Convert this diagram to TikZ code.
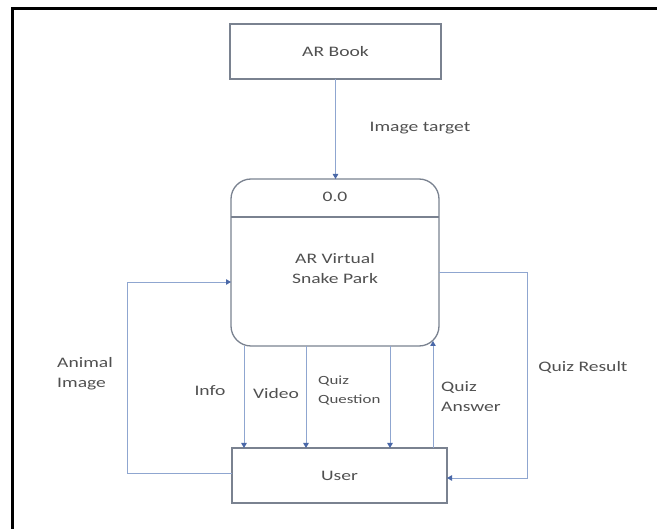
\documentclass[tikz,border=0pt]{standalone}
\usepackage{fontspec}
\setmainfont{Carlito}[FakeStretch=1.35]
\usetikzlibrary{arrows.meta}
\definecolor{boxc}{HTML}{7A8290}
\definecolor{linec}{HTML}{8FA6D0}
\definecolor{tipc}{HTML}{4A68A8}
\definecolor{txtc}{HTML}{505050}
\begin{document}
\begin{tikzpicture}[x=1pt,y=-1pt,
  boxnode/.style={draw=boxc,line width=1.3pt,outer sep=0pt,inner sep=0pt,text=txtc,
    font=\fontsize{14.5}{20}\selectfont},
  flow/.style={draw=linec,line width=0.9pt,-{Triangle[length=5pt,width=5.5pt,color=tipc]}},
  lbl/.style={text=txtc,inner sep=0pt,font=\fontsize{14.5}{20}\selectfont},
  lblsmall/.style={text=txtc,inner sep=0pt,font=\fontsize{12.5}{19}\selectfont}]
\useasboundingbox (0,0) rectangle (657,529);
% frame
\draw[line width=3pt] (12.5,529) -- (12.5,8.5) -- (657,8.5);
% boxes
\node[boxnode,minimum width=211pt,minimum height=55pt] (book) at (335.5,51.5) {AR Book};
\node[boxnode,minimum width=208pt,minimum height=167pt,rounded corners=20pt] (proc) at (335,262.5) {};
\node[boxnode,minimum width=215pt,minimum height=55pt] (user) at (339.5,475.5) {User};
\coordinate (div) at (0,217);
\draw[draw=boxc,line width=1.1pt] (proc.west |- div) -- (proc.east |- div);
\node[lbl] (pid) at (335,197) {0.0};
\node[lbl,align=center] (pname) at (335,269) {AR Virtual\\Snake Park};
% connectors
\draw[flow] (book.south) -- (book.south |- proc.north);
\coordinate (al1) at (127,473);
\coordinate (al2) at (127,282);
\draw[flow] (user.west |- al1) -- (al1) -- (al2) -- (proc.west |- al2);
\coordinate (xinfo) at (244,0);
\coordinate (xvid) at (306,0);
\coordinate (xqq) at (390,0);
\draw[flow] (proc.south -| xinfo) -- (user.north -| xinfo);
\draw[flow] (proc.south -| xvid) -- (user.north -| xvid);
\draw[flow] (proc.south -| xqq) -- (user.north -| xqq);
\coordinate (qatip) at (433,341);
\draw[flow] (user.north -| qatip) -- (qatip);
\coordinate (qr1) at (527,272);
\coordinate (qr2) at (527,478);
\draw[flow] (proc.east |- qr1) -- (qr1) -- (qr2) -- (user.east |- qr2);
% labels
\node[lbl] (limg) at (420,128) {Image target};
\node[lbl,align=left] (lanim) at (85,374) {Animal\\Image};
\node[lbl] (linfo) at (210,391) {Info};
\node[lbl] (lvid) at (276,394) {Video};
\node[lblsmall,align=left,anchor=west] (lqq) at (318,391) {Quiz\\Question};
\node[lbl,align=left,anchor=west] (lqa) at (441,397) {Quiz\\Answer};
\node[lbl] (lqr) at (583,367) {Quiz Result};
\end{tikzpicture}
\end{document}
